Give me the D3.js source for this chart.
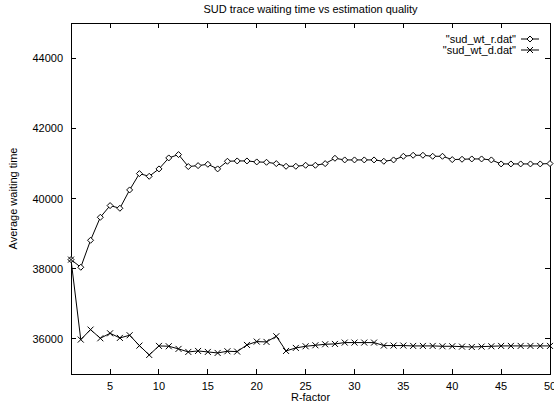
<script src="https://cdn.jsdelivr.net/npm/d3@7"></script>
<style>
  body { margin: 0; background: #fff; }
  text { font-family: "Liberation Sans", Arial, sans-serif; font-size: 11px; fill: #000; }
</style>
<div id="chart"></div>
<script>
// R-factor values 1..50
var rFactor = [1,2,3,4,5,6,7,8,9,10,11,12,13,14,15,16,17,18,19,20,
               21,22,23,24,25,26,27,28,29,30,31,32,33,34,35,36,37,38,39,40,
               41,42,43,44,45,46,47,48,49,50];

// "sud_wt_r.dat"
var wtR = [38259,38041,38810,39465,39798,39722,40244,40709,40633,40843,
           41156,41251,40910,40937,40975,40843,41061,41070,41070,41042,
           41032,40994,40918,40918,40947,40947,40994,41146,41099,41099,
           41099,41099,41061,41099,41203,41232,41232,41203,41203,41108,
           41118,41127,41127,41099,40985,40985,40985,40985,40985,40995];

// "sud_wt_d.dat"
var wtD = [38259,35980,36265,36018,36160,36028,36104,35809,35543,35800,
           35791,35715,35629,35657,35629,35600,35648,35638,35828,35923,
           35914,36075,35657,35743,35790,35818,35847,35857,35895,35895,
           35895,35895,35810,35810,35810,35800,35800,35800,35790,35790,
           35780,35770,35780,35790,35800,35800,35800,35800,35800,35800];

var xTicks = [5,10,15,20,25,30,35,40,45,50];
var yTicks = [36000,38000,40000,42000,44000];
var seriesNames = ['"sud_wt_r.dat"', '"sud_wt_d.dat"'];

var W = 554, H = 405;
var margin = {top: 23, right: 4, bottom: 31, left: 71};
var width = W - margin.left - margin.right,
    height = H - margin.top - margin.bottom;

var svg = d3.select("#chart").append("svg")
    .attr("width", W).attr("height", H);

var g = svg.append("g")
    .attr("transform", "translate(" + margin.left + "," + margin.top + ")");

var x = d3.scaleLinear().domain([1, 50]).range([0, width]);
var y = d3.scaleLinear().domain([35000, 45000]).range([height, 0]);

var tick = 5;

// frame
g.append("rect")
    .attr("x", 0).attr("y", 0)
    .attr("width", width).attr("height", height)
    .attr("fill", "none").attr("stroke", "#000").attr("stroke-width", 1)
    .attr("shape-rendering", "crispEdges");

// ticks, mirrored inward on all sides
var tk = g.append("g").attr("stroke", "#000").attr("shape-rendering", "crispEdges");
xTicks.forEach(function(t) {
    tk.append("line").attr("x1", x(t)).attr("x2", x(t)).attr("y1", height).attr("y2", height - tick);
    tk.append("line").attr("x1", x(t)).attr("x2", x(t)).attr("y1", 0).attr("y2", tick);
});
yTicks.forEach(function(t) {
    tk.append("line").attr("x1", 0).attr("x2", tick).attr("y1", y(t)).attr("y2", y(t));
    tk.append("line").attr("x1", width).attr("x2", width - tick).attr("y1", y(t)).attr("y2", y(t));
});

g.selectAll(".xl").data(xTicks).enter().append("text")
    .attr("x", function(d) { return x(d); })
    .attr("y", height + 16)
    .attr("text-anchor", "middle")
    .text(function(d) { return d; });

g.selectAll(".yl").data(yTicks).enter().append("text")
    .attr("x", -8)
    .attr("y", function(d) { return y(d) + 4; })
    .attr("text-anchor", "end")
    .text(function(d) { return d; });

// titles
svg.append("text").attr("x", margin.left + width / 2).attr("y", 13)
    .attr("text-anchor", "middle").text("SUD trace waiting time vs estimation quality");
svg.append("text").attr("x", margin.left + width / 2).attr("y", H - 4)
    .attr("text-anchor", "middle").text("R-factor");
svg.append("text")
    .attr("transform", "translate(17," + (margin.top + height / 2) + ") rotate(-90)")
    .attr("text-anchor", "middle").text("Average waiting time");

var line = d3.line()
    .x(function(d, i) { return x(rFactor[i]); })
    .y(function(d) { return y(d); });

var diamond = function(sel, cx, cy) {
    sel.append("path")
        .attr("d", "M" + cx + "," + (cy - 3) + " L" + (cx + 3) + "," + cy +
                   " L" + cx + "," + (cy + 3) + " L" + (cx - 3) + "," + cy + "Z")
        .attr("fill", "#fff").attr("stroke", "#000").attr("stroke-width", 1);
};
var cross = function(sel, cx, cy) {
    sel.append("path")
        .attr("d", "M" + (cx - 3) + "," + (cy - 3) + " L" + (cx + 3) + "," + (cy + 3) +
                   " M" + (cx - 3) + "," + (cy + 3) + " L" + (cx + 3) + "," + (cy - 3))
        .attr("fill", "none").attr("stroke", "#000").attr("stroke-width", 1);
};

var plot = g.append("g");
plot.append("path").datum(wtR).attr("d", line)
    .attr("fill", "none").attr("stroke", "#000").attr("stroke-width", 1);
plot.append("path").datum(wtD).attr("d", line)
    .attr("fill", "none").attr("stroke", "#000").attr("stroke-width", 1);

wtR.forEach(function(v, i) { diamond(plot, x(rFactor[i]), y(v)); });
wtD.forEach(function(v, i) { cross(plot, x(rFactor[i]), y(v)); });

// legend
var leg = g.append("g");
var markers = [diamond, cross];
seriesNames.forEach(function(name, i) {
    var ly = 16 + i * 11;
    leg.append("text").attr("x", width - 34).attr("y", ly + 4)
        .attr("text-anchor", "end").text(name);
    leg.append("line").attr("x1", width - 29).attr("x2", width - 11)
        .attr("y1", ly).attr("y2", ly).attr("stroke", "#000");
    markers[i](leg, width - 20, ly);
});
</script>
